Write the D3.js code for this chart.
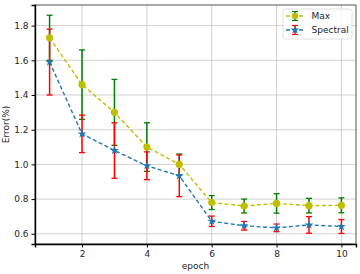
<!DOCTYPE html>
<html>
<head>
<meta charset="utf-8">
<script src="https://cdn.jsdelivr.net/npm/d3@7"></script>
<style>
  body { margin: 0; background: #fff; }
  text { font-family: "DejaVu Sans", sans-serif; fill: #262626; }
</style>
</head>
<body>
<div id="chart"></div>
<script>
// data
var epochs = [1, 2, 3, 4, 5, 6, 7, 8, 9, 10]
var maxErr = [1.73, 1.46, 1.30, 1.10, 1.00, 0.78, 0.76, 0.775, 0.762, 0.764]
var maxStd = [0.13, 0.20, 0.19, 0.14, 0.06, 0.04, 0.04, 0.056, 0.042, 0.043]
var specErr = [1.59, 1.176, 1.08, 0.992, 0.934, 0.672, 0.646, 0.634, 0.651, 0.642]
var specStd = [0.19, 0.108, 0.16, 0.08, 0.12, 0.03, 0.025, 0.022, 0.048, 0.04]
var xTicks = [2, 4, 6, 8, 10]
var yTicks = [0.6, 0.8, 1.0, 1.2, 1.4, 1.6, 1.8]

var width = 360, height = 274
var margin = { left: 35, right: 4, top: 5, bottom: 30 }

var svg = d3.select("#chart").append("svg")
    .attr("width", width)
    .attr("height", height)

var x = d3.scaleLinear().domain([0.55, 10.45]).range([margin.left, width - margin.right])
var y = d3.scaleLinear().domain([0.541, 1.919]).range([height - margin.bottom, margin.top])

// grid
svg.append("g").selectAll("line").data(yTicks).enter().append("line")
    .attr("x1", margin.left).attr("x2", width - margin.right)
    .attr("y1", d => y(d)).attr("y2", d => y(d))
    .attr("stroke", "#c4c4c4").attr("stroke-width", 0.8)
svg.append("g").selectAll("line").data(xTicks).enter().append("line")
    .attr("y1", margin.top).attr("y2", height - margin.bottom)
    .attr("x1", d => x(d)).attr("x2", d => x(d))
    .attr("stroke", "#c4c4c4").attr("stroke-width", 0.8)

// frame top/right
svg.append("rect")
    .attr("x", margin.left).attr("y", margin.top)
    .attr("width", width - margin.right - margin.left)
    .attr("height", height - margin.bottom - margin.top)
    .attr("fill", "none").attr("stroke", "#555").attr("stroke-width", 1)

// axes
var xAxis = svg.append("g")
    .attr("transform", "translate(0," + (height - margin.bottom) + ")")
    .call(d3.axisBottom(x).tickValues(xTicks).tickSize(3.5).tickPadding(3).tickFormat(d3.format("d")))
var yAxis = svg.append("g")
    .attr("transform", "translate(" + margin.left + ",0)")
    .call(d3.axisLeft(y).tickValues(yTicks).tickSize(3.5).tickPadding(3).tickFormat(d3.format(".1f")))
xAxis.selectAll("text").style("font-size", "9px").attr("fill", "#333")
yAxis.selectAll("text").style("font-size", "9px").attr("fill", "#333")
xAxis.select(".domain").attr("stroke", "#000").attr("stroke-width", 1.4)
yAxis.select(".domain").attr("stroke", "#000").attr("stroke-width", 1.4)

svg.append("text").attr("x", (x(0.55) + x(10.45)) / 2).attr("y", height - 5)
    .attr("text-anchor", "middle").style("font-size", "9px").text("epoch")
svg.append("text")
    .attr("transform", "translate(9," + ((margin.top + height - margin.bottom) / 2) + ") rotate(-90)")
    .attr("text-anchor", "middle").style("font-size", "9px").text("Error(%)")

// error bars
function drawErrorBars(vals, stds, color) {
    var g = svg.append("g")
    epochs.forEach(function (e, i) {
        var lo = y(vals[i] - stds[i]), hi = y(vals[i] + stds[i])
        g.append("line").attr("x1", x(e)).attr("x2", x(e)).attr("y1", lo).attr("y2", hi)
            .attr("stroke", color).attr("stroke-width", 1.5)
        ;[lo, hi].forEach(function (yy) {
            g.append("line").attr("x1", x(e) - 3).attr("x2", x(e) + 3).attr("y1", yy).attr("y2", yy)
                .attr("stroke", color).attr("stroke-width", 1.3)
        })
    })
}
drawErrorBars(maxErr, maxStd, "#008000")
drawErrorBars(specErr, specStd, "#ff0000")

function drawLine(vals, color) {
    var line = d3.line().x((d, i) => x(epochs[i])).y(d => y(d))
    svg.append("path").datum(vals).attr("d", line)
        .attr("fill", "none").attr("stroke", color)
        .attr("stroke-width", 1.4).attr("stroke-dasharray", "4,2.5")
}
drawLine(maxErr, "#bfbf00")
drawLine(specErr, "#1f77b4")

var star = d3.symbol().type(d3.symbolStar).size(24)
svg.append("g").selectAll("circle").data(maxErr).enter().append("circle")
    .attr("cx", (d, i) => x(epochs[i])).attr("cy", d => y(d)).attr("r", 3.6)
    .attr("fill", "#bfbf00")
svg.append("g").selectAll("path").data(specErr).enter().append("path")
    .attr("d", star)
    .attr("transform", (d, i) => "translate(" + x(epochs[i]) + "," + y(d) + ")")
    .attr("fill", "#1f77b4")

// legend
var lg = svg.append("g").attr("transform", "translate(283,9)")
lg.append("rect").attr("width", 69).attr("height", 30).attr("rx", 2)
    .attr("fill", "#fff").attr("fill-opacity", 0.85).attr("stroke", "#d8d8d8").attr("stroke-width", 0.8)
var entries = [
    { name: "Max", line: "#bfbf00", bar: "#008000", kind: "circle" },
    { name: "Spectral", line: "#1f77b4", bar: "#ff0000", kind: "star" }
]
entries.forEach(function (en, i) {
    var cy = 7 + i * 14
    lg.append("line").attr("x1", 3).attr("x2", 21).attr("y1", cy).attr("y2", cy)
        .attr("stroke", en.line).attr("stroke-width", 1.4).attr("stroke-dasharray", "4,2.5")
    lg.append("line").attr("x1", 12).attr("x2", 12).attr("y1", cy - 4.5).attr("y2", cy + 4.5)
        .attr("stroke", en.bar).attr("stroke-width", 1.5)
    ;[cy - 4.5, cy + 4.5].forEach(function (yy) {
        lg.append("line").attr("x1", 9).attr("x2", 15).attr("y1", yy).attr("y2", yy)
            .attr("stroke", en.bar).attr("stroke-width", 1.2)
    })
    if (en.kind === "circle") {
        lg.append("circle").attr("cx", 12).attr("cy", cy).attr("r", 3.3).attr("fill", en.line)
    } else {
        lg.append("path").attr("d", star).attr("transform", "translate(12," + cy + ")").attr("fill", en.line)
    }
    lg.append("text").attr("x", 28.5).attr("y", cy + 3.2).style("font-size", "9px").text(en.name)
})
</script>
</body>
</html>
